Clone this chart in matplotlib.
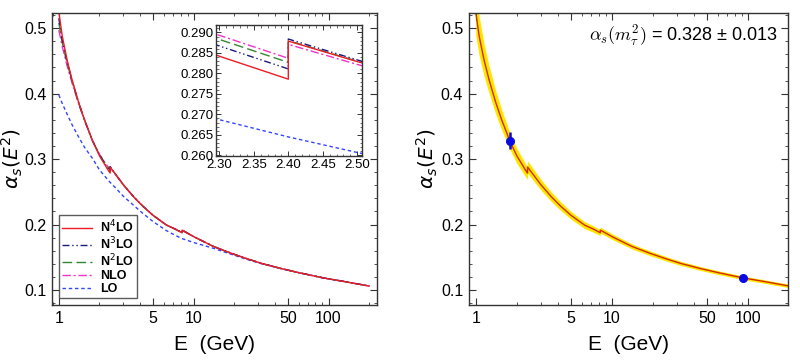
import numpy as np
import matplotlib.pyplot as plt
from matplotlib.ticker import FixedLocator, LogLocator, MultipleLocator, NullFormatter, FormatStrFormatter

plt.rcParams['font.family'] = ['Liberation Sans', 'DejaVu Sans']
plt.rcParams['mathtext.fontset'] = 'dejavusans'

# energies (GeV); the repeated values are the flavour thresholds
E = [1.0, 1.06, 1.15, 1.25, 1.4, 1.55, 1.777, 2.0, 2.2, 2.3, 2.4, 2.4, 2.5, 2.6, 3.0, 3.6,
     4.2, 5.0, 6.3, 7.3, 8.2, 8.2, 10, 14, 19, 25, 32, 44, 60, 91.19, 130, 200]

a_n4lo = [0.525, 0.488, 0.452, 0.422, 0.387, 0.360, 0.328, 0.305, 0.291, 0.2842, 0.2786, 0.2879,
          0.2829, 0.2783, 0.2610, 0.2420, 0.2280, 0.2140, 0.1990, 0.1930, 0.1875, 0.1915, 0.1815,
          0.1665, 0.1560, 0.1475, 0.1405, 0.1330, 0.1265, 0.1185, 0.1130, 0.1060]
a_n3lo = [0.515, 0.482, 0.449, 0.421, 0.387, 0.360, 0.328, 0.3065, 0.2925, 0.2867, 0.2811, 0.2884,
          0.2833, 0.2786, 0.2612, 0.2421, 0.2281, 0.2141, 0.1991, 0.1931, 0.1876, 0.1916, 0.1816,
          0.1666, 0.1561, 0.1476, 0.1406, 0.1331, 0.1266, 0.1186, 0.1131, 0.1061]
a_n2lo = [0.508, 0.478, 0.447, 0.420, 0.386, 0.360, 0.328, 0.307, 0.2935, 0.2883, 0.2827, 0.2880,
          0.2830, 0.2785, 0.2611, 0.2420, 0.2280, 0.2140, 0.1990, 0.1930, 0.1875, 0.1915, 0.1815,
          0.1665, 0.1560, 0.1475, 0.1405, 0.1330, 0.1265, 0.1185, 0.1130, 0.1060]
a_nlo = [0.497, 0.472, 0.443, 0.417, 0.385, 0.359, 0.328, 0.3075, 0.2945, 0.2893, 0.2837, 0.2871,
         0.2822, 0.2778, 0.2606, 0.2417, 0.2277, 0.2138, 0.1988, 0.1928, 0.1873, 0.1913, 0.1813,
         0.1664, 0.1559, 0.1474, 0.1404, 0.1329, 0.1264, 0.1184, 0.1129, 0.1059]
a_lo = [0.398, 0.385, 0.369, 0.353, 0.334, 0.318, 0.301, 0.2835, 0.2735, 0.2687, 0.2645, 0.2645,
        0.2607, 0.2572, 0.2435, 0.2290, 0.2170, 0.2045, 0.1905, 0.1835, 0.1785, 0.1785, 0.1725,
        0.1637, 0.1545, 0.1465, 0.1400, 0.1328, 0.1264, 0.1184, 0.1129, 0.1060]
# half width of the yellow band in the right panel
a_err = [0.036, 0.030, 0.025, 0.021, 0.018, 0.0155, 0.013, 0.0115, 0.0105, 0.0100, 0.0096, 0.0096,
         0.0093, 0.0090, 0.0082, 0.0073, 0.0066, 0.0059, 0.0053, 0.0049, 0.0046, 0.0046, 0.0043,
         0.0039, 0.0036, 0.0034, 0.0032, 0.0030, 0.0029, 0.0028, 0.0027, 0.0026]

pts_E = [1.777, 91.19]
pts_a = [0.328, 0.1184]
pts_err = [0.013, 0.0]

frame_col = '#333333'


def style_main(ax, xmax, ylab_x):
    ax.set_xscale('log')
    ax.set_xlim(0.89, xmax)
    ax.set_ylim(0.077, 0.523)
    ax.xaxis.set_major_locator(FixedLocator([1, 5, 10, 50, 100]))
    ax.xaxis.set_major_formatter(FormatStrFormatter('%g'))
    ax.xaxis.set_minor_locator(LogLocator(base=10, subs=np.arange(1, 10)))
    ax.xaxis.set_minor_formatter(NullFormatter())
    ax.yaxis.set_major_locator(MultipleLocator(0.1))
    ax.yaxis.set_minor_locator(MultipleLocator(0.02))
    ax.yaxis.set_major_formatter(FormatStrFormatter('%.1f'))
    ax.tick_params(which='both', direction='in', top=True, right=True, color=frame_col)
    ax.tick_params(which='major', length=5, width=0.8, labelsize=11.5, pad=4)
    ax.tick_params(which='minor', length=2.5, width=0.6)
    for s in ax.spines.values():
        s.set_color(frame_col)
        s.set_linewidth(1.0)
    ax.set_xlabel('E  (GeV)', fontsize=15, labelpad=7)
    ax.set_ylabel(r'$\alpha_s(E^2)$', fontsize=14.5)
    ax.yaxis.set_label_coords(ylab_x, 0.5)


fig = plt.figure(figsize=(8, 3.64), dpi=100)

# left panel: the five orders
ax1 = fig.add_axes([0.065, 0.162, 0.406, 0.802])
curves = [
    (a_lo, 'LO', '#3344ff', (0, (2.5, 2))),
    (a_nlo, 'NLO', '#ee33cc', (0, (6, 2, 1.5, 2))),
    (a_n2lo, r'N$^2$LO', '#338833', (0, (7, 3))),
    (a_n3lo, r'N$^3$LO', '#1a1a80', (0, (5, 2, 1, 2, 1, 2))),
    (a_n4lo, r'N$^4$LO', '#ee1c25', '-'),
]
lines = {}
for vals, lab, col, ls in curves:
    lines[lab], = ax1.plot(E, vals, color=col, ls=ls, lw=1.0, label=lab)
style_main(ax1, 228, -0.084)
order = [r'N$^4$LO', r'N$^3$LO', r'N$^2$LO', 'NLO', 'LO']
leg = ax1.legend([lines[k] for k in order], order, loc='lower left', bbox_to_anchor=(0.022, 0.024),
                 borderaxespad=0, fancybox=False, edgecolor=frame_col,
                 prop={'weight': 'bold', 'size': 9}, handlelength=2.4, labelspacing=0.05,
                 borderpad=0.25, handletextpad=0.6)
leg.get_frame().set_linewidth(1.0)

# inset around the charm threshold
axi = fig.add_axes([0.27, 0.571, 0.1825, 0.36])
for vals, lab, col, ls in curves:
    axi.plot(E, vals, color=col, ls=ls, lw=1.0)
axi.set_xlim(2.295, 2.507)
axi.set_ylim(0.2598, 0.2918)
axi.xaxis.set_major_locator(MultipleLocator(0.05))
axi.xaxis.set_minor_locator(MultipleLocator(0.01))
axi.yaxis.set_major_locator(MultipleLocator(0.005))
axi.yaxis.set_minor_locator(MultipleLocator(0.001))
axi.xaxis.set_major_formatter(FormatStrFormatter('%.2f'))
axi.yaxis.set_major_formatter(FormatStrFormatter('%.3f'))
axi.tick_params(which='both', direction='in', top=True, right=True, color=frame_col)
axi.tick_params(which='major', length=3.5, width=0.7, labelsize=9.5, pad=2)
axi.tick_params(which='minor', length=1.8, width=0.5)
for s in axi.spines.values():
    s.set_color(frame_col)
    s.set_linewidth(1.0)

# right panel: N4LO with uncertainty band
ax2 = fig.add_axes([0.586, 0.162, 0.399, 0.802])
lo = np.array(a_n4lo) - np.array(a_err)
hi = np.array(a_n4lo) + np.array(a_err)
ax2.fill_between(E, lo, hi, color='#ffe600', lw=0)
ax2.plot(E, a_n4lo, color='#d42a00', lw=1.0)
ax2.errorbar(pts_E, pts_a, yerr=pts_err, fmt='o', color='#0a0ae6', ms=5.5,
             elinewidth=1.8, capsize=0, zorder=5)
ax2.text(0.968, 0.919, r'$\alpha_s(m_\tau^2)$ = 0.328 ± 0.013', transform=ax2.transAxes,
         ha='right', va='center', fontsize=13, math_fontfamily='cm')
style_main(ax2, 195, -0.090)

fig.savefig('out.png', dpi=100)
